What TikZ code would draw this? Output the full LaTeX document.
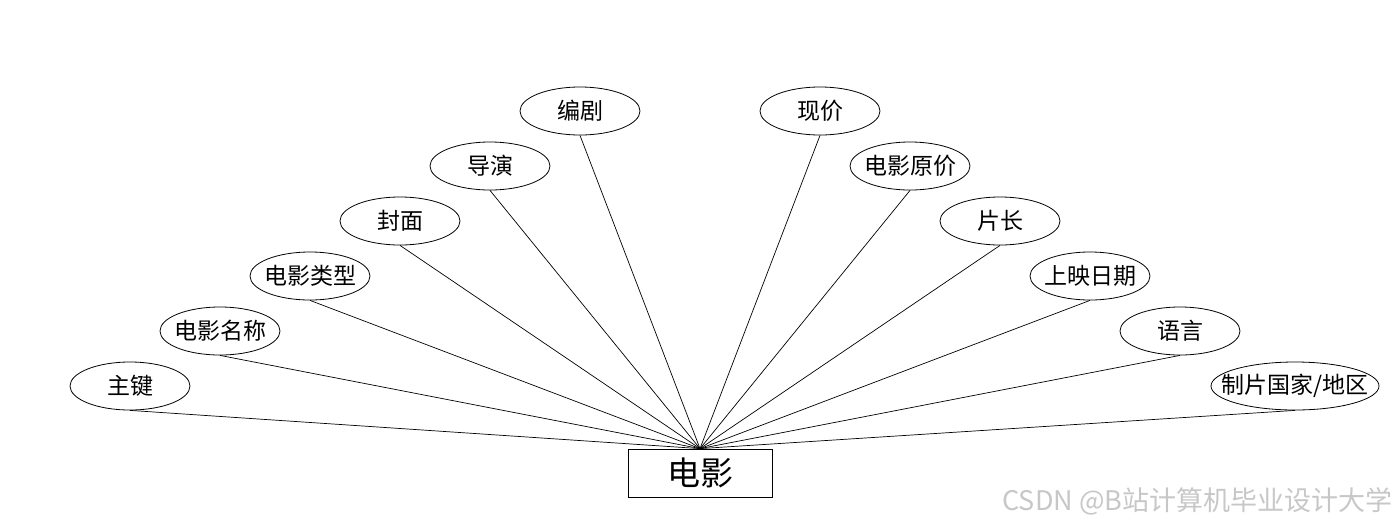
\documentclass[tikz,border=0pt]{standalone}
\usepackage{fontspec}
\setmainfont{Noto Sans CJK SC}
\usetikzlibrary{shapes.geometric}
\begin{document}
\begin{tikzpicture}[
    x=1pt, y=-1pt,
    attr/.style={draw,ellipse,inner xsep=-8pt,inner ysep=0pt,line width=0.8pt,minimum width=120pt,minimum height=48pt,font=\fontsize{23}{25}\selectfont},
    entity/.style={draw,rectangle,line width=0.8pt,minimum width=144pt,minimum height=48pt,font=\fontsize{33}{35}\selectfont},
    link/.style={line width=0.7pt,black}
]
\useasboundingbox (0,0) rectangle (1400,528);
\node[entity] (film) at (700,473) {电影};
% left side
\node[attr] (key) at (130,386) {主键};
\node[attr] (name) at (220,331) {电影名称};
\node[attr] (genre) at (310,276) {电影类型};
\node[attr] (cover) at (400,221) {封面};
\node[attr] (director) at (490,166) {导演};
\node[attr] (writer) at (580,111) {编剧};
% right side
\node[attr] (price) at (820,111) {现价};
\node[attr] (oldprice) at (910,166) {电影原价};
\node[attr] (length) at (1000,221) {片长};
\node[attr] (release) at (1090,276) {上映日期};
\node[attr] (lang) at (1180,331) {语言};
\node[attr,inner xsep=-15pt,minimum width=168pt] (country) at (1295,386) {制片国家/地区};
\foreach \a in {key,name,genre,cover,director,writer,price,oldprice,length,release,lang,country}
    \draw[link] (\a.south) -- (film.north);
\node[text=black!22,font=\fontsize{27}{29}\selectfont,anchor=east] (mark) at (1396,501) {CSDN @B站计算机毕业设计大学};
\end{tikzpicture}
\end{document}
